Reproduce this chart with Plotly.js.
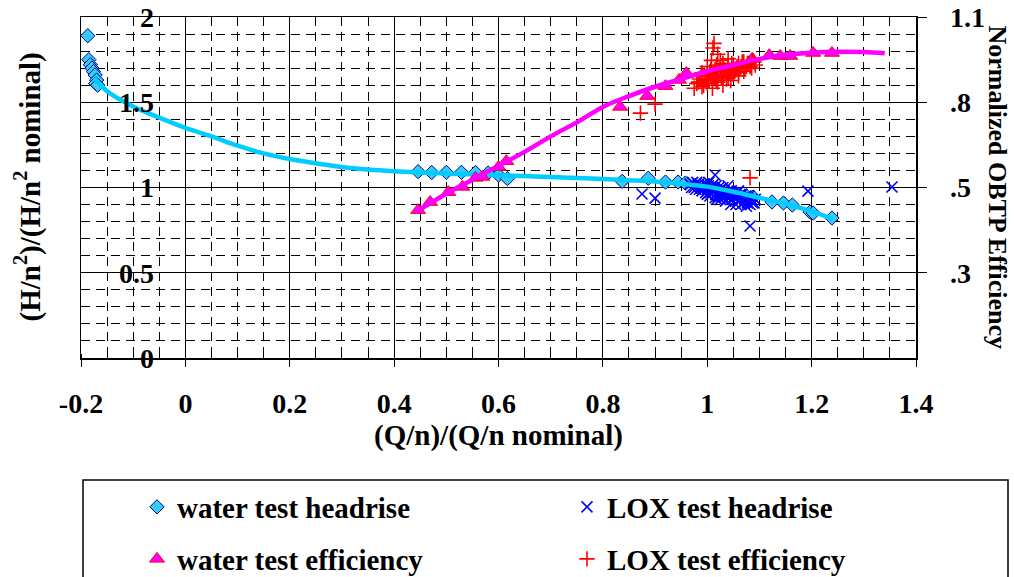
<!DOCTYPE html>
<html>
<head>
<meta charset="utf-8">
<script src="https://cdn.plot.ly/plotly-3.0.1.min.js"></script>
<style>
  html, body { margin: 0; padding: 0; background: #fff; }
  #chart { width: 1014px; height: 577px; }
</style>
</head>
<body>
<div id="chart"></div>
<script>
// ---- data ----
const waterHeadX = [-0.187, -0.185, -0.182, -0.179, -0.176, -0.173, -0.170, -0.172, -0.168,
  0.446, 0.472, 0.500, 0.529, 0.556, 0.580, 0.600, 0.617,
  0.837, 0.887, 0.920, 0.944, 0.958, 0.981, 1.000, 1.020, 1.040, 1.060, 1.075,
  1.088, 1.124, 1.146, 1.163, 1.197, 1.203, 1.239];
const waterHeadY = [1.89, 1.75, 1.72, 1.70, 1.68, 1.66, 1.63, 1.61, 1.60,
  1.093, 1.088, 1.089, 1.089, 1.088, 1.085, 1.073, 1.052,
  1.036, 1.054, 1.032, 1.032, 1.026, 1.003, 0.995, 0.985, 0.972, 0.960, 0.950,
  0.944, 0.915, 0.909, 0.897, 0.856, 0.850, 0.821];

const loxHeadX = [0.875, 0.900, 1.015, 1.193, 1.354, 1.082,
  0.967, 0.975, 0.980, 0.987, 0.990, 0.995, 1.000, 1.003, 1.006, 1.010, 1.013, 1.017, 1.020,
  1.025, 1.028, 1.030, 1.035, 1.040, 1.044, 1.047, 1.050, 1.055, 1.060, 1.063, 1.067, 1.070,
  1.074, 1.078, 1.082, 1.085, 1.090, 1.000, 1.015, 1.035, 1.055, 0.985, 1.040, 1.060, 1.025, 1.075,
  0.970, 0.972, 0.978, 0.983, 0.992, 0.997, 1.002, 1.008, 1.012, 1.016, 1.022, 1.027, 1.032, 1.037,
  1.042, 1.046, 1.052, 1.057, 1.062, 1.066, 1.072, 1.077, 1.080, 1.087, 1.092, 1.005, 1.018, 1.045,
  1.065, 1.030];
const loxHeadY = [0.962, 0.938, 1.073, 0.979, 1.003, 0.774,
  1.02, 1.00, 1.03, 1.01, 0.98, 1.02, 0.99, 1.03, 0.97, 1.00, 0.98, 1.01, 0.95,
  0.99, 0.97, 1.00, 0.95, 0.98, 0.96, 0.93, 0.97, 0.95, 0.92, 0.96, 0.94, 0.91,
  0.95, 0.93, 0.90, 0.93, 0.91, 0.96, 0.94, 0.92, 0.90, 0.99, 1.01, 0.98, 0.93, 0.89,
  1.00, 1.03, 0.99, 1.02, 1.00, 0.97, 1.01, 0.99, 1.02, 0.96, 1.00, 0.95, 0.98, 0.96,
  0.94, 0.98, 0.94, 0.97, 0.93, 0.96, 0.93, 0.91, 0.95, 0.91, 0.93, 0.95, 0.93, 0.90,
  0.90, 0.96];

const waterEffX = [0.446, 0.469, 0.504, 0.531, 0.556, 0.569, 0.600, 0.615,
  0.833, 0.885, 0.920, 0.946, 0.960, 1.086, 1.119, 1.140, 1.159, 1.203, 1.239];
const waterEffY = [0.477, 0.503, 0.535, 0.552, 0.581, 0.584, 0.616, 0.635,
  0.810, 0.845, 0.877, 0.897, 0.919, 0.965, 0.977, 0.974, 0.974, 0.984, 0.984];

const loxEffX = [0.872, 0.900, 1.082,
  0.980, 0.985, 0.990, 0.995, 1.000, 1.000, 1.005, 1.010, 1.010, 1.015, 1.015, 1.020, 1.020,
  1.025, 1.030, 1.030, 1.035, 1.040, 1.040, 1.045, 1.050, 1.050, 1.055, 1.060, 1.060, 1.065,
  1.070, 1.070, 1.075, 1.080, 1.085, 1.090, 1.011, 1.013, 1.020, 1.025, 1.000, 0.990,
  0.975, 0.983, 0.988, 0.993, 0.998, 1.003, 1.007, 1.012, 1.017, 1.022, 1.027, 1.032, 1.037, 1.042,
  1.047, 1.052, 1.057, 1.062, 1.067, 1.072, 1.077, 1.082, 1.087, 1.092, 1.030, 1.045, 1.060, 1.008,
  1.018, 1.040];
const loxEffY = [0.790, 0.819, 0.581,
  0.885, 0.900, 0.875, 0.895, 0.910, 0.885, 0.920, 0.900, 0.870, 0.930, 0.905, 0.915, 0.890,
  0.935, 0.910, 0.880, 0.925, 0.940, 0.905, 0.920, 0.945, 0.915, 0.930, 0.950, 0.920, 0.940,
  0.925, 0.955, 0.940, 0.950, 0.935, 0.955, 1.000, 1.015, 0.980, 0.960, 0.940, 0.920,
  0.870, 0.890, 0.910, 0.880, 0.900, 0.895, 0.930, 0.915, 0.895, 0.925, 0.905, 0.930, 0.900, 0.925,
  0.950, 0.925, 0.940, 0.935, 0.955, 0.935, 0.950, 0.940, 0.960, 0.945, 0.950, 0.895, 0.910, 0.960,
  0.945, 0.965];

// trend curves
const headFitX = [-0.175, -0.15, -0.1, -0.05, 0, 0.05, 0.1, 0.15, 0.2, 0.25, 0.3, 0.35, 0.4, 0.45,
  0.5, 0.55, 0.6, 0.65, 0.7, 0.75, 0.8, 0.85, 0.9, 0.95, 1.0, 1.05, 1.1, 1.15, 1.2, 1.24];
const headFitY = [1.645, 1.565, 1.475, 1.41, 1.35, 1.30, 1.245, 1.20, 1.167, 1.142, 1.12, 1.105, 1.095, 1.088,
  1.082, 1.077, 1.072, 1.067, 1.062, 1.056, 1.050, 1.043, 1.035, 1.022, 1.005, 0.975, 0.94, 0.905, 0.86, 0.815];

const effFitX = [0.44, 0.5, 0.55, 0.6, 0.65, 0.7, 0.75, 0.8, 0.85, 0.9, 0.95, 1.0, 1.05, 1.1, 1.15, 1.2, 1.25, 1.3, 1.34];
const effFitY = [0.47, 0.53, 0.575, 0.62, 0.665, 0.715, 0.76, 0.81, 0.845, 0.875, 0.9, 0.925, 0.945, 0.965, 0.978, 0.985, 0.988, 0.987, 0.983];

const xTickVals = [-0.2, 0, 0.2, 0.4, 0.6, 0.8, 1.0, 1.2, 1.4];
const xTickText = ['-0.2', '0', '0.2', '0.4', '0.6', '0.8', '1', '1.2', '1.4'];
const effTickVals = [0.275, 0.55, 0.825, 1.1];
const effTickText = ['.3', '.5', '.8', '1.1'];

const names = ['water test headrise', 'LOX test headrise', 'water test efficiency', 'LOX test efficiency'];

// ---- styling ----
const FONT = 'Liberation Serif, Times New Roman, serif';
const W = 1014, H = 577;
const M = {l: 81, r: 98, t: 17, b: 219, autoexpand: false};
const PW = W - M.l - M.r, PH = H - M.t - M.b;
const tickFont = {family: FONT, size: 28, color: '#000', weight: 'bold'};

const traces = [
  {x: waterHeadX, y: waterHeadY, type: 'scatter', mode: 'markers', name: names[0], legend: 'legend',
   marker: {symbol: 'diamond', size: 11, color: '#33CCFF', line: {color: '#000080', width: 1}}},
  {x: loxHeadX, y: loxHeadY, type: 'scatter', mode: 'markers', name: names[1], legend: 'legend2',
   marker: {symbol: 'x-thin-open', size: 11, color: '#0000FF', line: {color: '#0000FF', width: 1.6}}},
  {x: headFitX, y: headFitY, type: 'scatter', mode: 'lines', showlegend: false, hoverinfo: 'skip',
   line: {color: '#00CCFF', width: 4.5, shape: 'spline'}},
  {x: waterEffX, y: waterEffY, yaxis: 'y2', type: 'scatter', mode: 'markers', name: names[2], legend: 'legend3',
   marker: {symbol: 'triangle-up', size: 13, color: '#FF00FF', line: {color: '#FF0000', width: 1}}},
  {x: loxEffX, y: loxEffY, yaxis: 'y2', type: 'scatter', mode: 'markers', name: names[3], legend: 'legend4',
   marker: {symbol: 'cross-thin-open', size: 11, color: '#FF0000', line: {color: '#FF0000', width: 1.6}}},
  {x: effFitX, y: effFitY, yaxis: 'y2', type: 'scatter', mode: 'lines', showlegend: false, hoverinfo: 'skip',
   line: {color: '#FF00FF', width: 4.5, shape: 'spline'}}
];

function legendAt(px, py) {
  return {
    xref: 'container', yref: 'container',
    x: px / W, y: 1 - py / H, xanchor: 'left', yanchor: 'middle',
    bgcolor: 'rgba(0,0,0,0)', borderwidth: 0,
    font: {family: FONT, size: 29, color: '#000', weight: 'bold'}
  };
}

const layout = {
  width: W, height: H,
  margin: M,
  paper_bgcolor: '#fff', plot_bgcolor: '#fff',
  font: {family: FONT, color: '#000', weight: 'bold'},
  xaxis: {
    range: [-0.2, 1.4], tickmode: 'array', tickvals: xTickVals, ticktext: xTickText,
    showline: true, linecolor: '#000', linewidth: 1.5, mirror: true,
    showgrid: true, gridcolor: '#000', gridwidth: 1,
    ticks: 'outside', ticklen: 7, tickcolor: '#000', tickwidth: 1,
    minor: {dtick: 0.05, tick0: 0, showgrid: true, gridcolor: '#000', griddash: '9px,6px', gridwidth: 1,
            ticks: 'inside', ticklen: 4, tickcolor: '#000'},
    zeroline: false, tickangle: 0,
    tickfont: tickFont,
    ticklabelstandoff: 13,
    title: {text: '(Q/n)/(Q/n nominal)', font: {family: FONT, size: 29, color: '#000', weight: 'bold'}, standoff: 6},
    automargin: true
  },
  yaxis: {
    range: [0, 2], dtick: 0.5, tick0: 0,
    showline: true, linecolor: '#000', linewidth: 1.5,
    showgrid: true, gridcolor: '#000', gridwidth: 1,
    ticks: '', zeroline: false,
    minor: {dtick: 0.1, showgrid: true, gridcolor: '#000', griddash: '9px,6px', gridwidth: 1},
    tickfont: tickFont,
    ticklabelstandoff: -80,
    automargin: false
  },
  yaxis2: {
    overlaying: 'y', side: 'right', range: [0, 1.1],
    tickmode: 'array', tickvals: effTickVals, ticktext: effTickText,
    showline: true, linecolor: '#000', linewidth: 1.5,
    showgrid: false, zeroline: false,
    ticks: 'outside', ticklen: 9, tickcolor: '#000',
    tickfont: tickFont,
    ticklabelstandoff: 18,
    automargin: false
  },
  legend: legendAt(137, 507),
  legend2: legendAt(567, 507),
  legend3: legendAt(137, 559),
  legend4: legendAt(567, 559),
  annotations: [
    {text: '(H/n<sup>2</sup>)/(H/n<sup>2</sup> nominal)', xref: 'paper', yref: 'paper',
     x: (28 - M.l) / PW, y: 0.5, xanchor: 'center', yanchor: 'middle',
     textangle: -90, showarrow: false,
     font: {family: FONT, size: 29, color: '#000', weight: 'bold'}},
    {text: 'Normalized OBTP Efficiency', xref: 'paper', yref: 'paper',
     x: (997 - M.l) / PW, y: 0.5, xanchor: 'center', yanchor: 'middle',
     textangle: 90, showarrow: false,
     font: {family: FONT, size: 26, color: '#000', weight: 'bold'}}
  ],
  shapes: [
    {type: 'rect', xref: 'paper', yref: 'paper',
     x0: (83 - M.l) / PW, x1: (1008 - M.l) / PW,
     y0: (H - M.b - 480) / PH, y1: (H - M.b - 600) / PH,
     line: {color: '#000', width: 1.5}, fillcolor: 'rgba(0,0,0,0)', layer: 'above'}
  ],
  showlegend: true
};

Plotly.newPlot('chart', traces, layout, {staticPlot: true, displayModeBar: false});
</script>
</body>
</html>
